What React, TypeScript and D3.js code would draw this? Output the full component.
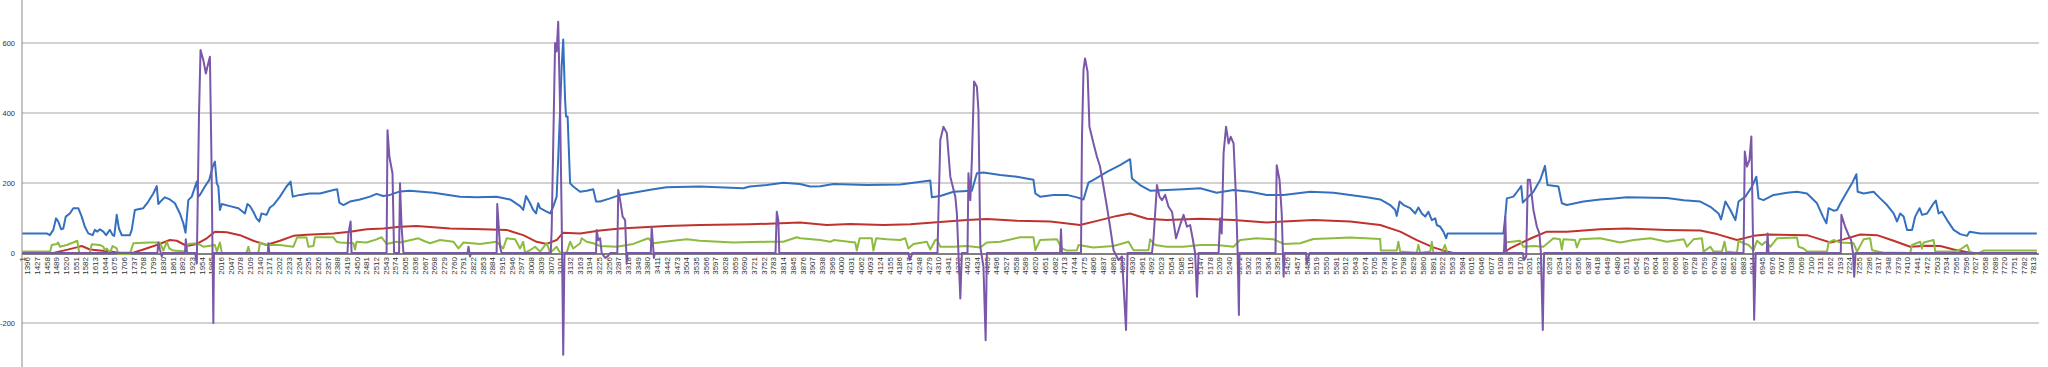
import React, { useEffect, useRef } from 'react';
import * as d3 from 'd3';

type Pt = [number, number];

const firstCat = 1380; // the "1" category sits at the very start of the axis

const xLabels = [
  '1', '1396', '1427', '1458', '1489', '1520', '1551', '1582', '1613', '1644', '1675', '1706', '1737', '1768', '1799',
  '1830', '1861', '1892', '1923', '1954', '1985', '2016', '2047', '2078', '2109', '2140', '2171', '2202', '2233',
  '2264', '2295', '2326', '2357', '2388', '2419', '2450', '2481', '2512', '2543', '2574', '2605', '2636', '2667',
  '2698', '2729', '2760', '2791', '2822', '2853', '2884', '2915', '2946', '2977', '3008', '3039', '3070', '3101',
  '3132', '3163', '3194', '3225', '3256', '3287', '3318', '3349', '3380', '3411', '3442', '3473', '3504', '3535',
  '3566', '3597', '3628', '3659', '3690', '3721', '3752', '3783', '3814', '3845', '3876', '3907', '3938', '3969',
  '4000', '4031', '4062', '4093', '4124', '4155', '4186', '4217', '4248', '4279', '4310', '4341', '4372', '4403',
  '4434', '4465', '4496', '4527', '4558', '4589', '4620', '4651', '4682', '4713', '4744', '4775', '4806', '4837',
  '4868', '4899', '4930', '4961', '4992', '5023', '5054', '5085', '5116', '5147', '5178', '5209', '5240', '5271',
  '5302', '5333', '5364', '5395', '5426', '5457', '5488', '5519', '5550', '5581', '5612', '5643', '5674', '5705',
  '5736', '5767', '5798', '5829', '5860', '5891', '5922', '5953', '5984', '6015', '6046', '6077', '6108', '6139',
  '6170', '6201', '6232', '6263', '6294', '6325', '6356', '6387', '6418', '6449', '6480', '6511', '6542', '6573',
  '6604', '6635', '6666', '6697', '6728', '6759', '6790', '6821', '6852', '6883', '6914', '6945', '6976', '7007',
  '7038', '7069', '7100', '7131', '7162', '7193', '7224', '7255', '7286', '7317', '7348', '7379', '7410', '7441',
  '7472', '7503', '7534', '7565', '7596', '7627', '7658', '7689', '7720', '7751', '7782', '7813',
];

const yTicks = [-200, 0, 200, 400, 600];

const blueSeries: Pt[] = [
  [1380, 56], [1458, 56], [1468, 51], [1479, 66], [1488, 99], [1495, 90], [1504, 68], [1511, 70], [1519, 104],
  [1532, 113], [1543, 128], [1559, 128], [1570, 104], [1580, 75], [1591, 56], [1605, 51], [1612, 66], [1620, 61],
  [1628, 68], [1639, 61], [1648, 51], [1660, 66], [1669, 51], [1674, 49], [1682, 109], [1689, 70], [1698, 51],
  [1724, 51], [1730, 66], [1740, 123], [1751, 125], [1767, 128], [1783, 147], [1799, 170], [1810, 191], [1815, 140],
  [1826, 151], [1836, 159], [1852, 153], [1868, 142], [1884, 113], [1895, 85], [1902, 58], [1911, 151], [1922, 161],
  [1938, 204], [1943, 161], [1948, 166], [1964, 190], [1978, 209], [1989, 247], [1996, 261], [2002, 199], [2007, 190],
  [2012, 123], [2018, 140], [2044, 134], [2071, 128], [2092, 113], [2100, 140], [2108, 134], [2119, 118], [2129, 99],
  [2138, 90], [2145, 113], [2161, 109], [2172, 130], [2183, 137], [2204, 161], [2225, 190], [2238, 204], [2245, 161],
  [2268, 166], [2300, 170], [2332, 170], [2375, 180], [2387, 182], [2394, 144], [2407, 137], [2428, 147], [2460, 153],
  [2492, 161], [2513, 169], [2534, 163], [2556, 166], [2588, 176], [2620, 178], [2695, 172], [2780, 161], [2833, 159],
  [2897, 161], [2940, 153], [2972, 134], [2982, 123], [2991, 163], [3004, 142], [3014, 123], [3023, 113], [3030, 142],
  [3036, 128], [3057, 118], [3068, 113], [3078, 132], [3089, 161], [3098, 361], [3105, 532], [3110, 610], [3116, 437],
  [3119, 390], [3124, 390], [3132, 199], [3142, 190], [3164, 175], [3185, 178], [3206, 182], [3215, 147], [3228, 147],
  [3260, 156], [3292, 166], [3334, 172], [3398, 182], [3441, 188], [3547, 190], [3686, 185], [3707, 190], [3761, 194],
  [3814, 201], [3867, 197], [3900, 190], [3932, 191], [3975, 197], [4081, 194], [4188, 196], [4284, 207], [4289, 159],
  [4316, 163], [4358, 175], [4401, 177], [4417, 178], [4433, 228], [4454, 230], [4508, 223], [4561, 218], [4614, 209],
  [4620, 170], [4635, 161], [4678, 166], [4721, 166], [4753, 159], [4774, 153], [4790, 201], [4806, 209], [4849, 232],
  [4891, 251], [4923, 268], [4929, 213], [4955, 194], [4987, 178], [5040, 180], [5094, 182], [5147, 185], [5200, 172],
  [5254, 180], [5307, 175], [5360, 166], [5414, 166], [5499, 175], [5574, 172], [5627, 166], [5680, 159], [5723, 153],
  [5755, 137], [5771, 123], [5776, 106], [5785, 147], [5798, 137], [5819, 128], [5835, 113], [5845, 130], [5856, 113],
  [5867, 104], [5877, 118], [5888, 94], [5899, 99], [5904, 80], [5915, 75], [5925, 61], [5934, 42], [5938, 56],
  [6117, 56], [6123, 104], [6128, 156], [6149, 161], [6165, 180], [6174, 191], [6179, 144], [6192, 156], [6213, 175],
  [6235, 209], [6250, 249], [6258, 194], [6293, 190], [6304, 142], [6320, 137], [6373, 147], [6426, 153], [6470, 156],
  [6512, 159], [6640, 157], [6694, 151], [6747, 147], [6779, 132], [6805, 113], [6813, 96], [6827, 147], [6843, 123],
  [6859, 94], [6869, 147], [6891, 161], [6912, 190], [6926, 218], [6933, 156], [6949, 151], [6981, 166], [7024, 172],
  [7056, 175], [7088, 170], [7120, 142], [7139, 104], [7150, 85], [7157, 128], [7173, 121], [7184, 123], [7195, 142],
  [7216, 175], [7232, 199], [7246, 225], [7250, 175], [7269, 170], [7301, 175], [7322, 156], [7344, 137], [7365, 113],
  [7376, 90], [7386, 113], [7397, 104], [7408, 66], [7424, 66], [7434, 104], [7448, 128], [7456, 109], [7472, 113],
  [7493, 142], [7500, 150], [7509, 113], [7520, 118], [7536, 94], [7557, 66], [7578, 54], [7600, 49], [7608, 61],
  [7642, 56], [7823, 56],
];

const redSeries: Pt[] = [
  [1380, 0], [1479, 0], [1522, 9], [1554, 16], [1570, 20], [1596, 10], [1628, 7], [1660, 4], [1692, 1], [1735, 1],
  [1767, 10], [1810, 23], [1852, 37], [1874, 35], [1906, 20], [1938, 26], [1970, 42], [1996, 61], [2034, 59],
  [2076, 51], [2119, 35], [2161, 23], [2204, 35], [2247, 49], [2289, 52], [2375, 56], [2428, 61], [2481, 68],
  [2535, 70], [2588, 75], [2641, 77], [2748, 70], [2855, 68], [2929, 66], [2982, 51], [3025, 32], [3057, 26],
  [3089, 37], [3110, 58], [3164, 56], [3228, 64], [3292, 70], [3441, 77], [3547, 80], [3707, 82], [3867, 87],
  [3953, 80], [4028, 83], [4134, 80], [4220, 82], [4294, 87], [4401, 94], [4465, 97], [4561, 92], [4668, 90],
  [4763, 80], [4827, 94], [4881, 106], [4923, 113], [4977, 98], [5040, 94], [5147, 98], [5254, 94], [5360, 87],
  [5414, 90], [5510, 94], [5627, 90], [5723, 80], [5787, 61], [5840, 37], [5893, 16], [5936, 4], [5957, 0],
  [6117, 0], [6138, 13], [6181, 32], [6213, 45], [6256, 61], [6320, 61], [6426, 68], [6512, 70], [6640, 66],
  [6747, 64], [6800, 54], [6864, 37], [6917, 49], [6960, 53], [7088, 51], [7131, 39], [7163, 30], [7205, 39],
  [7258, 53], [7312, 51], [7365, 35], [7418, 18], [7472, 21], [7514, 20], [7557, 10], [7610, 1], [7632, 0], [7823, 0],
];

const greenSeries: Pt[] = [
  [1380, 4], [1469, 4], [1474, 23], [1490, 26], [1495, 30], [1500, 18], [1522, 23], [1543, 30], [1556, 35], [1562, 0],
  [1596, 0], [1602, 25], [1628, 23], [1639, 18], [1644, 8], [1650, 13], [1660, 1], [1669, 20], [1682, 13], [1687, -3],
  [1724, -3], [1735, 28], [1788, 30], [1820, 30], [1831, 7], [1842, 32], [1850, 13], [1863, 7], [1900, 4], [1911, 26],
  [1938, 28], [1959, 18], [1996, 23], [2002, 4], [2012, 30], [2018, 1], [2097, 0], [2103, 18], [2108, 1], [2135, 0],
  [2140, 30], [2161, 23], [2204, 23], [2247, 18], [2259, 45], [2289, 44], [2295, 18], [2311, 20], [2316, 45],
  [2375, 45], [2385, 32], [2396, 30], [2439, 28], [2444, 10], [2449, 32], [2481, 30], [2513, 39], [2529, 45],
  [2545, 26], [2577, 32], [2588, 30], [2647, 42], [2663, 35], [2684, 28], [2716, 37], [2759, 32], [2775, 13],
  [2791, 30], [2844, 26], [2897, 32], [2918, 13], [2929, 42], [2956, 39], [2972, 13], [2982, 32], [2988, 1],
  [3004, 8], [3020, 18], [3036, 4], [3057, 28], [3068, 1], [3089, 18], [3100, 1], [3121, 1], [3132, 32], [3142, 13],
  [3164, 28], [3169, 42], [3185, 32], [3206, 28], [3228, 20], [3281, 18], [3334, 26], [3382, 42], [3398, 28],
  [3462, 35], [3505, 39], [3547, 35], [3654, 30], [3761, 32], [3814, 32], [3857, 45], [3868, 42], [3932, 37],
  [3964, 32], [3975, 37], [4044, 30], [4049, 7], [4058, 42], [4097, 42], [4102, 7], [4111, 42], [4145, 39],
  [4188, 37], [4204, 42], [4214, 13], [4230, 26], [4273, 32], [4284, 10], [4300, 37], [4305, 39], [4316, 18],
  [4358, 18], [4401, 20], [4444, 16], [4465, 30], [4508, 32], [4571, 45], [4614, 45], [4620, 8], [4635, 37],
  [4689, 39], [4705, 13], [4721, 7], [4753, 8], [4758, 23], [4806, 16], [4870, 20], [4918, 32], [4934, 8],
  [4982, 8], [4987, 39], [5003, 23], [5040, 18], [5094, 18], [5147, 23], [5200, 23], [5254, 18], [5275, 37],
  [5328, 42], [5382, 39], [5414, 26], [5467, 28], [5509, 40], [5573, 42], [5627, 44], [5723, 40], [5725, 7],
  [5776, 7], [5781, 32], [5787, 4], [5840, 1], [5845, 23], [5851, 1], [5883, 4], [5888, 32], [5893, 1], [5920, 1],
  [5930, 23], [5938, 0], [6117, 0], [6123, 30], [6170, 35], [6181, 18], [6213, 20], [6245, 18], [6277, 42],
  [6298, 39], [6304, 10], [6309, 39], [6346, 37], [6352, 16], [6362, 39], [6426, 42], [6491, 30], [6534, 37],
  [6587, 42], [6640, 32], [6694, 39], [6704, 18], [6725, 39], [6752, 42], [6757, 4], [6779, 18], [6789, 4],
  [6816, 4], [6824, 32], [6830, 4], [6864, 1], [6869, 35], [6885, 28], [6901, 23], [6917, 8], [6928, 35],
  [6944, 23], [6955, 32], [6971, 18], [6992, 42], [7056, 44], [7061, 18], [7077, 13], [7088, 4], [7152, 4],
  [7157, 30], [7173, 37], [7195, 30], [7237, 28], [7248, 4], [7269, 39], [7290, 42], [7296, 8], [7333, 1],
  [7386, 1], [7418, 0], [7424, 23], [7450, 32], [7456, 13], [7461, 30], [7493, 37], [7498, 4], [7557, 4],
  [7578, 10], [7600, 23], [7608, 4], [7632, -3], [7653, 7], [7823, 7],
];

const purpleSeries: Pt[] = [
  [1380, 0], [1812, 0], [1815, 30], [1820, 10], [1826, -10], [1829, 0], [1900, 0], [1903, 39], [1907, 0], [1933, 0],
  [1938, -30], [1945, 390], [1950, 580], [1959, 551], [1967, 513], [1972, 532], [1980, 561], [1985, 266], [1991, -200],
  [1993, 0], [2165, 0], [2167, 28], [2170, 0], [2420, 0], [2423, 56], [2430, 90], [2433, 0], [2545, 0], [2548, 351],
  [2554, 275], [2564, 227], [2569, 0], [2585, 0], [2588, 199], [2593, 75], [2599, 0], [2804, 0], [2807, 18],
  [2812, -10], [2815, 0], [2897, 0], [2899, 140], [2908, 18], [2913, 0], [3070, 0], [3073, 66], [3084, 600],
  [3089, 576], [3094, 661], [3100, 409], [3105, 104], [3110, -291], [3114, 0], [3215, 0], [3217, 66], [3222, 37],
  [3228, 42], [3233, 0], [3244, -14], [3254, -8], [3260, 0], [3283, 0], [3286, 180], [3292, 151], [3300, 104],
  [3308, 94], [3313, -30], [3316, 0], [3390, 0], [3393, 75], [3400, -14], [3403, 0], [3789, 0], [3793, 118],
  [3798, 94], [3801, 0], [4214, 0], [4218, -20], [4223, -10], [4226, 0], [4307, 0], [4310, 113], [4316, 323],
  [4326, 361], [4337, 342], [4348, 218], [4364, 161], [4369, 113], [4374, 0], [4380, -130], [4385, 0], [4403, 0],
  [4406, 228], [4412, 151], [4417, 266], [4424, 490], [4433, 475], [4438, 408], [4444, 18], [4454, -39], [4461, -249],
  [4465, 0], [4699, 0], [4702, 68], [4705, 0], [4766, 0], [4769, 323], [4774, 523], [4779, 556], [4787, 518],
  [4793, 361], [4806, 313], [4817, 275], [4827, 247], [4838, 190], [4849, 132], [4859, 75], [4870, 8], [4886, -20],
  [4897, -10], [4910, -220], [4915, 0], [4993, 0], [4998, 42], [5009, 194], [5017, 161], [5025, 151], [5035, 166],
  [5046, 132], [5057, 118], [5070, 42], [5083, 80], [5094, 109], [5105, 75], [5115, 80], [5124, 37], [5131, 0],
  [5137, -125], [5142, 0], [5206, 0], [5211, 99], [5216, 56], [5222, 285], [5230, 361], [5238, 313], [5245, 332],
  [5254, 313], [5262, 151], [5267, 0], [5271, -177], [5273, 0], [5388, 0], [5392, 251], [5401, 209], [5408, 113],
  [5414, -68], [5417, 0], [5486, 0], [5488, -30], [5494, -10], [5497, 0], [6119, 0], [6123, 104], [6126, 0],
  [6179, 0], [6183, -20], [6190, -10], [6195, 209], [6202, 209], [6213, 123], [6224, 75], [6232, 56], [6237, 0],
  [6243, -220], [6247, 0], [6885, 0], [6889, 290], [6896, 247], [6904, 266], [6910, 333], [6915, 56], [6919, -191],
  [6924, 0], [6959, 0], [6962, 56], [6965, 0], [7196, 0], [7198, 109], [7210, 75], [7221, 51], [7229, 37],
  [7235, 0], [7239, -68], [7243, 0], [7823, 0],
];

const seriesList: { data: Pt[]; color: string }[] = [
  { data: blueSeries, color: '#3570bf' },
  { data: redSeries, color: '#c0332d' },
  { data: greenSeries, color: '#8dbb3f' },
  { data: purpleSeries, color: '#7a57a8' },
];

const W = 2048;
const H = 367;

const App: React.FC = () => {
  const chartRef = useRef<SVGSVGElement>(null);

  useEffect(() => {
    if (!chartRef.current) return;
    const svg = d3.select(chartRef.current);
    svg.selectAll('*').remove();

    const left = 22;
    const right = 2039;
    const x = d3.scaleLinear().domain([1379, 7830]).range([left, right]);
    // 0 sits at y=253, 200 units = 70px
    const y = d3.scaleLinear().domain([0, 200]).range([253, 183]);

    const g = svg.append('g');

    // gridlines
    g.selectAll('line.grid')
      .data(yTicks.filter(t => t !== 0))
      .enter()
      .append('line')
      .attr('x1', left)
      .attr('x2', right)
      .attr('y1', d => y(d))
      .attr('y2', d => y(d))
      .attr('stroke', '#c3c3c3')
      .attr('stroke-width', 1.6);

    // y axis line
    g.append('line')
      .attr('x1', left)
      .attr('x2', left)
      .attr('y1', 0)
      .attr('y2', H)
      .attr('stroke', '#8a8a8a')
      .attr('stroke-width', 1);

    // y tick labels
    g.selectAll('text.ytick')
      .data(yTicks)
      .enter()
      .append('text')
      .attr('x', 15)
      .attr('y', d => y(d))
      .attr('dy', '0.35em')
      .attr('text-anchor', 'end')
      .style('font-family', '"Liberation Sans", Arial, sans-serif')
      .style('font-size', '7.5px')
      .style('fill', '#333')
      .text(d => `${d}`);

    // x axis line
    g.append('line')
      .attr('x1', left)
      .attr('x2', right)
      .attr('y1', y(0) + 1)
      .attr('y2', y(0) + 1)
      .attr('stroke', '#808080')
      .attr('stroke-width', 2);

    // x labels, rotated
    g.selectAll('text.xtick')
      .data(xLabels)
      .enter()
      .append('text')
      .attr('transform', d => `translate(${x(d === '1' ? firstCat : +d)},257) rotate(-90)`)
      .attr('dy', '0.35em')
      .attr('text-anchor', 'end')
      .style('font-family', '"Liberation Sans", Arial, sans-serif')
      .style('font-size', '8px')
      .style('fill', '#333')
      .text(d => d);

    const line = d3.line<Pt>()
      .x(d => x(d[0]))
      .y(d => y(d[1]));

    seriesList.forEach(s => {
      g.append('path')
        .datum(s.data)
        .attr('d', line)
        .attr('fill', 'none')
        .attr('stroke', s.color)
        .attr('stroke-width', 2)
        .attr('stroke-linejoin', 'round');
    });
  }, []);

  return (
    <div style={{ position: 'absolute', left: 0, top: 0 }}>
      <svg ref={chartRef} width={W} height={H} style={{ display: 'block' }} />
    </div>
  );
};

export default App;
